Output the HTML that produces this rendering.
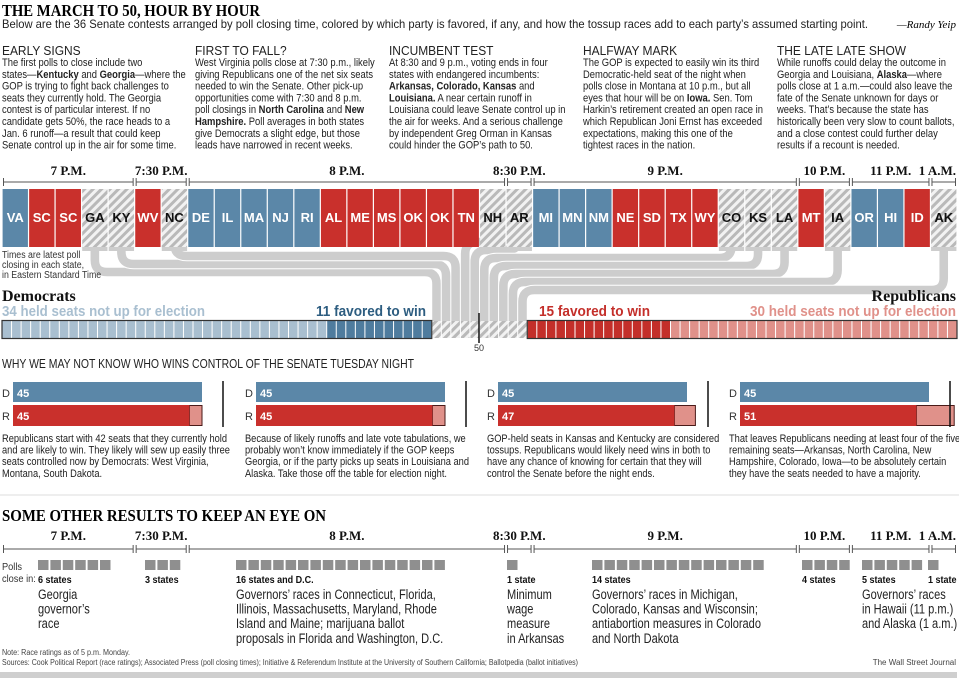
<!DOCTYPE html>
<html><head><meta charset="utf-8">
<style>
html,body{margin:0;padding:0;background:#fff;}
svg{display:block;}
text{font-family:"Liberation Sans Narrow","Liberation Sans",sans-serif;}
.serif{font-family:"Liberation Serif",serif;font-weight:bold;}
.body{font-size:11px;fill:#222;}
.hd{font-size:13px;fill:#222;}
</style></head>
<body>
<svg id="chart" width="959" height="678" viewBox="0 0 959 678" xmlns="http://www.w3.org/2000/svg">
<defs>
<pattern id="hatch" patternUnits="userSpaceOnUse" width="6" height="6" patternTransform="rotate(45)">
<rect width="6" height="6" fill="#f2f2f2"/><rect width="3" height="6" fill="#b9b9b9"/>
</pattern>
</defs>
<text x="2" y="16" class="serif" font-size="17" textLength="258" lengthAdjust="spacingAndGlyphs">THE MARCH TO 50, HOUR BY HOUR</text>
<text x="2" y="28" font-size="12" fill="#222" textLength="866" lengthAdjust="spacingAndGlyphs">Below are the 36 Senate contests arranged by poll closing time, colored by which party is favored, if any, and how the tossup races add to each party’s assumed starting point.</text>
<text x="956" y="28" text-anchor="end" font-size="11" font-style="italic" style="font-family:'Liberation Serif',serif">—Randy Yeip</text>
<g id="cols"></g>
<g id="flows"></g>
<g id="timeline"></g>
<g id="boxes"></g>
<g transform="translate(2,0) scale(0.88,1) translate(-2,0)">
<text x="2" y="258" font-size="10" fill="#333">Times are latest poll</text>
<text x="2" y="268" font-size="10" fill="#333">closing in each state,</text>
<text x="2" y="278" font-size="10" fill="#333">in Eastern Standard Time</text>
</g>
<text x="2" y="301" class="serif" font-size="16" fill="#111">Democrats</text>
<text x="2" y="316" font-size="15" font-weight="bold" fill="#a9bfd0" textLength="203" lengthAdjust="spacingAndGlyphs">34 held seats not up for election</text>
<text x="426" y="316" text-anchor="end" font-size="15" font-weight="bold" fill="#2d5d80" textLength="110" lengthAdjust="spacingAndGlyphs">11 favored to win</text>
<text x="956" y="301" text-anchor="end" class="serif" font-size="16" fill="#111">Republicans</text>
<text x="539" y="316" font-size="15" font-weight="bold" fill="#c42f2a" textLength="111" lengthAdjust="spacingAndGlyphs">15 favored to win</text>
<text x="956" y="316" text-anchor="end" font-size="15" font-weight="bold" fill="#e0918a" textLength="206" lengthAdjust="spacingAndGlyphs">30 held seats not up for election</text>
<g id="seatbar"></g>
<line x1="479" y1="313" x2="479" y2="343" stroke="#111" stroke-width="1.5"/>
<text x="479" y="351" text-anchor="middle" font-size="9" fill="#333">50</text>
<text x="2" y="368" font-size="13" fill="#222" textLength="412" lengthAdjust="spacingAndGlyphs">WHY WE MAY NOT KNOW WHO WINS CONTROL OF THE SENATE TUESDAY NIGHT</text>
<g id="panels"></g>
<line x1="0" y1="495" x2="959" y2="495" stroke="#ddd" stroke-width="1"/>
<text x="2" y="521" class="serif" font-size="17" textLength="324" lengthAdjust="spacingAndGlyphs">SOME OTHER RESULTS TO KEEP AN EYE ON</text>
<g id="timeline2"></g>
<g transform="translate(2,0) scale(0.88,1) translate(-2,0)">
<text x="2" y="570" font-size="10.5" fill="#333">Polls</text>
<text x="2" y="582" font-size="10.5" fill="#333">close in:</text>
</g>
<g id="others"></g>
<text x="2" y="655" font-size="8" fill="#444" textLength="128" lengthAdjust="spacingAndGlyphs">Note: Race ratings as of 5 p.m. Monday.</text>
<text x="2" y="665" font-size="8" fill="#444" textLength="576" lengthAdjust="spacingAndGlyphs">Sources: Cook Political Report (race ratings); Associated Press (poll closing times); Initiative &amp; Referendum Institute at the University of Southern California; Ballotpedia (ballot initiatives)</text>
<text x="956" y="665" text-anchor="end" font-size="8" fill="#444">The Wall Street Journal</text>
<rect x="0" y="672" width="957" height="6" fill="#cfcfcf"/>
</svg>
<script>
// ---- data ----
const states = ["VA","SC","SC","GA","KY","WV","NC","DE","IL","MA","NJ","RI","AL","ME","MS","OK","OK","TN","NH","AR","MI","MN","NM","NE","SD","TX","WY","CO","KS","LA","MT","IA","OR","HI","ID","AK"];
const parties = ["D","R","R","T","T","R","T","D","D","D","D","D","R","R","R","R","R","R","T","T","D","D","D","R","R","R","R","T","T","T","R","T","D","D","R","T"];
const timeLabels = ["7 P.M.","7:30 P.M.","8 P.M.","8:30 P.M.","9 P.M.","10 P.M.","11 P.M.","1 A.M."];
const timeCounts = [5,2,12,1,10,2,3,1];
const demHeld = 34, repHeld = 30;
const panelD = [45,45,45,45];
const panelRSure = [42,42,42,42];
const panelRTotal = [45,45,47,51];
const otherCounts = [6,3,17,1,14,4,5,1];
const otherCountLabels = ["6 states","3 states","16 states and D.C.","1 state","14 states","4 states","5 states","1 state"];
const otherStarts = [38,145,236,507,592,802,862,928];
const otherDesc = [["Georgia","governor’s","race"],[],["Governors’ races in Connecticut, Florida,","Illinois, Massachusetts, Maryland, Rhode","Island and Maine; marijuana ballot","proposals in Florida and Washington, D.C."],["Minimum","wage","measure","in Arkansas"],["Governors’ races in Michigan,","Colorado, Kansas and Wisconsin;","antiabortion measures in Colorado","and North Dakota"],[],["Governors’ races","in Hawaii (11 p.m.)","and Alaska (1 a.m.)"],[]];

const NS="http://www.w3.org/2000/svg";
function mk(tag,attrs,parent,txt){const e=document.createElementNS(NS,tag);for(const k in attrs)e.setAttribute(k,attrs[k]);if(txt!==undefined)e.textContent=txt;parent.appendChild(e);return e;}
function sqz(el,x,s){el.setAttribute('transform',`translate(${x},0) scale(${s},1) translate(${-x},0)`);}
const COL={D:"#5b87a8",R:"#c9302c"};

// intro columns
const cols=[
 ["EARLY SIGNS",[["The first polls to close include two"],["states—",["Kentucky"]," and ",["Georgia"],"—where the"],["GOP is trying to fight back challenges to"],["seats they currently hold. The Georgia"],["contest is of particular interest. If no"],["candidate gets 50%, the race heads to a"],["Jan. 6 runoff—a result that could keep"],["Senate control up in the air for some time."]]],
 ["FIRST TO FALL?",[["West Virginia polls close at 7:30 p.m., likely"],["giving Republicans one of the net six seats"],["needed to win the Senate. Other pick-up"],["opportunities come with 7:30 and 8 p.m."],["poll closings in ",["North Carolina"]," and ",["New"]],[["Hampshire."]," Poll averages in both states"],["give Democrats a slight edge, but those"],["leads have narrowed in recent weeks."]]],
 ["INCUMBENT TEST",[["At 8:30 and 9 p.m., voting ends in four"],["states with endangered incumbents:"],[["Arkansas, Colorado, Kansas"]," and"],[["Louisiana."]," A near certain runoff in"],["Louisiana could leave Senate control up in"],["the air for weeks. And a serious challenge"],["by independent Greg Orman in Kansas"],["could hinder the GOP’s path to 50."]]],
 ["HALFWAY MARK",[["The GOP is expected to easily win its third"],["Democratic-held seat of the night when"],["polls close in Montana at 10 p.m., but all"],["eyes that hour will be on ",["Iowa."]," Sen. Tom"],["Harkin’s retirement created an open race in"],["which Republican Joni Ernst has exceeded"],["expectations, making this one of the"],["tightest races in the nation."]]],
 ["THE LATE LATE SHOW",[["While runoffs could delay the outcome in"],["Georgia and Louisiana, ",["Alaska"],"—where"],["polls close at 1 a.m.—could also leave the"],["fate of the Senate unknown for days or"],["weeks. That’s because the state has"],["historically been very slow to count ballots,"],["and a close contest could further delay"],["results if a recount is needed."]]]
];
const colX=[2,195,389,583,777];
const gc=document.getElementById('cols');
cols.forEach((c,i)=>{
  const h=mk('text',{x:colX[i],y:55,class:'hd'},gc,c[0]);
  
  
  sqz(h,colX[i],0.92);
  c[1].forEach((line,j)=>{
    const t=mk('text',{x:colX[i],y:66+j*11.8,class:'body'},gc);
    
    
    line.forEach(p=>{ if(Array.isArray(p)) mk('tspan',{'font-weight':'bold'},t,p[0]); else mk('tspan',{},t,p); });
    sqz(t,colX[i],0.855);
  });
});

// scales
const X0=2,X1=957,N=states.length,bw=(X1-X0)/N;
const bx=i=>X0+i*bw;
const cw=(X1-X0)/100;
const cx=k=>X0+k*cw;

// timeline
function axis(g,yLabel,yLine){
  let idx=0;
  timeLabels.forEach((lab,i)=>{
    const a=bx(idx), b=bx(idx+timeCounts[i]); idx+=timeCounts[i];
    const l=mk('line',{x1:a+1.5,x2:b-1.5,y1:yLine,y2:yLine,stroke:'#555','stroke-width':1},g);
    
    
    mk('line',{x1:a+1.5,x2:a+1.5,y1:yLine-4,y2:yLine+4,stroke:'#555'},g);
    mk('line',{x1:b-1.5,x2:b-1.5,y1:yLine-4,y2:yLine+4,stroke:'#555'},g);
    const last=i===timeLabels.length-1;
    const t=mk('text',{x:last?956:(a+b)/2,y:yLabel,'text-anchor':last?'end':'middle',class:'serif','font-size':13,fill:'#111'},g,lab);
    
    
  });
}
axis(document.getElementById('timeline'),175,182);
axis(document.getElementById('timeline2'),540,549);

// boxes
const gb=document.getElementById('boxes');
states.forEach((s,i)=>{
  const p=parties[i];
  const r=mk('rect',{x:bx(i)+0.6,y:189,width:bw-1.2,height:58,fill:p==='T'?'url(#hatch)':COL[p]},gb);
  
  
  const t=mk('text',{x:bx(i)+bw/2,y:222,'text-anchor':'middle','font-size':13,'font-weight':'bold',fill:p==='T'?'#111':'#fff',style:"font-family:'Liberation Sans',sans-serif"},gb,s);
  
  
});

// tossup flows
const gf=document.getElementById('flows');
const toss=[];parties.forEach((p,i)=>{if(p==='T')toss.push(i);});
const demFav=parties.filter(p=>p==='D').length;
const startToss=demHeld+demFav;
const leftCount=toss.filter(i=>bx(i)+bw/2<cx(startToss)-5).length;
toss.forEach((si,k)=>{
  const sx=bx(si)+bw/2, tx=cx(startToss+k)+cw/2;
  let lvl;
  if(sx<tx-20){ lvl=256+(leftCount-1-k)*8; }
  else if(sx>tx+20){ lvl=258+(k-leftCount-2)*8; }
  else lvl=null;
  let d;
  const r=12;
  if(lvl===null){ d=`M${sx},245 C${sx},285 ${tx},285 ${tx},321`; }
  else{
    const dir=tx>sx?1:-1;
    d=`M${sx},245 L${sx},${lvl-r} Q${sx},${lvl} ${sx+dir*r},${lvl} L${tx-dir*r},${lvl} Q${tx},${lvl} ${tx},${lvl+r} L${tx},321`;
  }
  mk('path',{d:d,fill:'none',stroke:'#fff','stroke-width':10.5},gf);
  const p=mk('path',{d:d,fill:'none',stroke:'#cdcdcd','stroke-width':8.6},gf);
  
  
  mk('rect',{x:bx(si)+0.6,y:245,width:bw-1.2,height:6,fill:'#cdcdcd'},gf);
});

// seat bar
const gs=document.getElementById('seatbar');
const repFav=parties.filter(p=>p==='R').length;
const tossN=toss.length;
for(let k=0;k<100;k++){
  let fill;
  if(k<demHeld) fill='#a9bfd0';
  else if(k<demHeld+demFav) fill='#4f7c9e';
  else if(k<demHeld+demFav+tossN) fill='url(#hatch)';
  else if(k<demHeld+demFav+tossN+repFav) fill='#c42f2a';
  else fill='#e0918a';
  const r=mk('rect',{x:cx(k)+0.5,y:321,width:cw-1,height:17,fill:fill},gs);
  
  
}
mk('rect',{x:cx(0),y:320.5,width:cw*(demHeld+demFav),height:18,fill:'none',stroke:'#333','stroke-width':1.2},gs);
mk('rect',{x:cx(100-repHeld-repFav),y:320.5,width:cw*(repHeld+repFav),height:18,fill:'none',stroke:'#333','stroke-width':1.2},gs);

// scenario panels
const gp=document.getElementById('panels');
const panelX=[13,256,498,740];
const ps=189/45;
const panelText=[
 ["Republicans start with 42 seats that they currently hold","and are likely to win. They likely will sew up easily three","seats controlled now by Democrats: West Virginia,","Montana, South Dakota."],
 ["Because of likely runoffs and late vote tabulations, we","probably won’t know immediately if the GOP keeps","Georgia, or if the party picks up seats in Louisiana and","Alaska. Take those off the table for election night."],
 ["GOP-held seats in Kansas and Kentucky are considered","tossups. Republicans would likely need wins in both to","have any chance of knowing for certain that they will","control the Senate before the night ends."],
 ["That leaves Republicans needing at least four of the five","remaining seats—Arkansas, North Carolina, New","Hampshire, Colorado, Iowa—to be absolutely certain","they have the seats needed to have a majority."]
];
panelX.forEach((x0,i)=>{
  mk('text',{x:x0-11,y:397,'font-size':11,fill:'#333'},gp,'D');
  mk('text',{x:x0-11,y:420,'font-size':11,fill:'#333'},gp,'R');
  const d=mk('rect',{x:x0,y:382,width:panelD[i]*ps,height:20,fill:'#5b87a8'},gp);
  
  
  const lt=mk('rect',{x:x0+panelRSure[i]*ps,y:405.5,width:(panelRTotal[i]-panelRSure[i])*ps,height:20,fill:'#e0918a',stroke:'#4a1a18','stroke-width':1},gp);
  
  
  const r=mk('rect',{x:x0,y:405,width:panelRSure[i]*ps,height:21,fill:'#c9302c'},gp);
  
  
  mk('text',{x:x0+4,y:397,'font-size':11,'font-weight':'bold',fill:'#fff'},gp,String(panelD[i]));
  mk('text',{x:x0+4,y:420,'font-size':11,'font-weight':'bold',fill:'#fff'},gp,String(panelRTotal[i]));
  const m=mk('line',{x1:x0+50*ps,x2:x0+50*ps,y1:381,y2:427,stroke:'#111','stroke-width':1.5},gp);
  
  
  panelText[i].forEach((ln,j)=>{
    const t=mk('text',{x:x0-11,y:442+j*11.6,'font-size':11,fill:'#222'},gp,ln);
    
    
    sqz(t,x0-11,0.845);
  });
});

// other results
const go=document.getElementById('others');
otherCounts.forEach((n,i)=>{
  for(let k=0;k<n;k++){
    const r=mk('rect',{x:otherStarts[i]+k*12.4,y:560,width:10.5,height:10,fill:'#8f8f8f'},go);
    
    
  }
  const t=mk('text',{x:otherStarts[i],y:583,'font-size':10.5,'font-weight':'bold',fill:'#111'},go,otherCountLabels[i]);
  
  
  sqz(t,otherStarts[i],0.86);
  otherDesc[i].forEach((ln,j)=>{
    const d=mk('text',{x:otherStarts[i],y:599+j*14.6,'font-size':14,fill:'#222'},go,ln);
    
    
    sqz(d,otherStarts[i],0.79);
  });
});
</script>
</body></html>
